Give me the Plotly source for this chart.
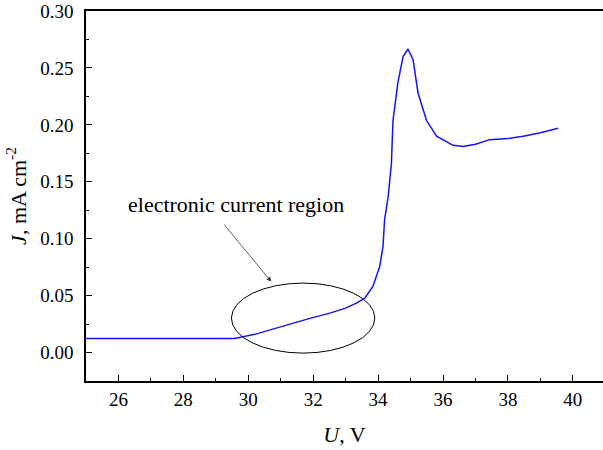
import plotly.graph_objects as go

# Data
U = [25.0, 29.58, 30.25, 30.8, 31.38, 31.9, 32.51, 33.0, 33.33, 33.59, 33.84,
     34.05, 34.15, 34.20, 34.31, 34.41, 34.46, 34.61, 34.77, 34.92, 35.08,
     35.23, 35.49, 35.80, 36.31, 36.62, 37.0, 37.44, 38.0, 38.47, 39.0, 39.55]
J = [0.0123, 0.0123, 0.0164, 0.0210, 0.0258, 0.0300, 0.0346, 0.0390, 0.0434,
     0.0477, 0.0580, 0.0755, 0.0930, 0.1165, 0.1370, 0.1660, 0.2040, 0.2370,
     0.2600, 0.2666, 0.2570, 0.2280, 0.2040, 0.1900, 0.1820, 0.1810, 0.1830,
     0.1870, 0.1880, 0.1900, 0.1930, 0.1970]

x_ticks = [26, 28, 30, 32, 34, 36, 38, 40]
y_ticks = [0.00, 0.05, 0.10, 0.15, 0.20, 0.25, 0.30]
y_labels = ["0.00", "0.05", "0.10", "0.15", "0.20", "0.25", "0.30"]

annotation_text = "electronic current region"
x_title = "<i>U</i>, V"
y_title = "<i>J</i>, mA cm<sup>-2</sup>"

FONT = "Liberation Serif"

fig = go.Figure()
fig.add_trace(go.Scatter(x=U, y=J, mode="lines",
                         line=dict(color="rgb(20,20,240)", width=1.5),
                         showlegend=False))

# ellipse around electronic current region
fig.add_shape(type="circle", xref="x", yref="y",
              x0=29.48, x1=33.9, y0=-0.0005, y1=0.061,
              line=dict(color="black", width=1))

fig.add_annotation(x=30.71, y=0.0623, ax=29.22, ay=0.1136,
                   xref="x", yref="y", axref="x", ayref="y",
                   text="", showarrow=True, arrowhead=2, arrowsize=1.2,
                   arrowwidth=0.8, arrowcolor="#333")
fig.add_annotation(x=29.63, y=0.1297, xref="x", yref="y",
                   text=annotation_text, showarrow=False,
                   font=dict(family=FONT, size=22, color="black"))

fig.update_layout(
    width=603, height=450,
    margin=dict(l=86, r=0, t=11, b=69),
    plot_bgcolor="white", paper_bgcolor="white",
    font=dict(family=FONT, color="black"),
)
fig.update_xaxes(
    range=[25, 40.93], tickvals=x_ticks, ticks="inside", ticklen=6,
    tickwidth=1.2, tickcolor="black",
    minor=dict(dtick=1, ticks="inside", ticklen=3, tickcolor="black", tick0=25),
    showline=True, linecolor="black", linewidth=1.5, mirror=True,
    showgrid=False, zeroline=False, automargin=False,
    tickfont=dict(family=FONT, size=19),
    ticklabelstandoff=0,
    title=dict(text=x_title, font=dict(family=FONT, size=22), standoff=18),
)
fig.update_yaxes(
    range=[-0.025, 0.30], tickvals=y_ticks, ticktext=y_labels,
    ticks="inside", ticklen=6, tickwidth=1.2, tickcolor="black",
    minor=dict(dtick=0.025, tick0=0, ticks="inside", ticklen=3, tickcolor="black"),
    showline=True, linecolor="black", linewidth=1.5,
    showgrid=False, zeroline=False, automargin=False,
    tickfont=dict(family=FONT, size=19),
    ticklabelstandoff=7, ticklabeloverflow="allow",
    title=dict(text=y_title, font=dict(family=FONT, size=22), standoff=8),
)

fig.write_html(
    "out.html",
    config={"displayModeBar": False},
    post_script="document.body.style.margin='0';document.body.style.overflow='hidden';",
)
